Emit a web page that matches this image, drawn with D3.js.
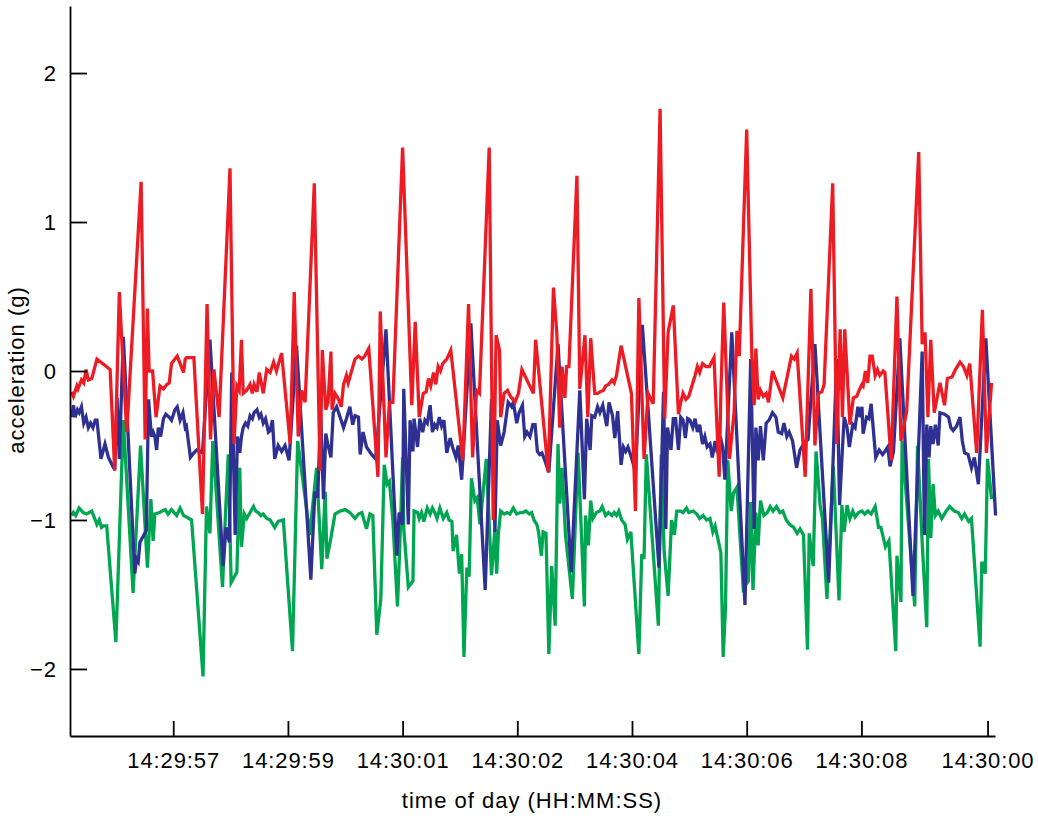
<!DOCTYPE html>
<meta charset="utf-8">
<script src="https://d3js.org/d3.v7.min.js"></script>
<style>
  body { margin: 0; background: #fff; }
  text { font-family: "Liberation Sans", Arial, Helvetica, sans-serif; }
</style>
<svg id="chart" width="1038" height="818"></svg>
<script>

  // elapsed time (s) and acceleration (g) for each axis of the sensor
  var red = [[0.03,-0.14],[0.06,-0.17],[0.12,-0.10],[0.14,-0.12],[0.20,-0.06],[0.24,-0.08],[0.28,0.01],[0.32,-0.06],[0.38,-0.05],[0.47,0.08],[0.70,0.01],[0.78,-0.67],[0.86,0.53],[0.90,0.23],[0.99,-0.41],[1.24,1.27],[1.31,-0.46],[1.35,0.42],[1.38,0.0],[1.44,0.0],[1.50,-0.31],[1.57,-0.10],[1.63,-0.12],[1.69,-0.09],[1.73,-0.08],[1.77,0.05],[1.83,0.08],[1.87,0.10],[1.92,0.05],[1.98,-0.01],[2.01,0.08],[2.03,0.09],[2.16,0.09],[2.31,-0.96],[2.39,0.45],[2.45,-0.46],[2.51,0.01],[2.60,-0.31],[2.79,1.36],[2.86,-0.49],[2.91,-0.10],[2.95,-0.13],[2.99,0.21],[3.02,-0.15],[3.08,-0.13],[3.14,-0.09],[3.18,-0.15],[3.21,-0.09],[3.26,-0.14],[3.30,-0.01],[3.37,-0.15],[3.43,0.01],[3.49,-0.01],[3.55,0.06],[3.60,0.0],[3.69,0.12],[3.84,-0.49],[3.91,0.53],[3.98,-0.44],[4.04,-0.13],[4.10,-0.21],[4.26,1.26],[4.36,-0.67],[4.40,0.14],[4.46,-0.26],[4.50,-0.21],[4.55,0.13],[4.57,-0.26],[4.62,-0.15],[4.67,-0.18],[4.73,-0.24],[4.77,-0.09],[4.82,-0.03],[4.85,-0.08],[4.91,0.0],[4.97,0.08],[5.03,0.10],[5.09,0.08],[5.14,0.10],[5.21,0.15],[5.37,-0.71],[5.41,0.40],[5.51,-0.58],[5.57,-0.21],[5.63,-0.21],[5.80,1.50],[5.96,-0.23],[6.02,0.33],[6.09,-0.31],[6.16,-0.15],[6.21,-0.14],[6.25,-0.05],[6.29,-0.10],[6.34,-0.01],[6.38,-0.09],[6.42,0.03],[6.46,0.0],[6.50,0.05],[6.57,0.08],[6.64,0.14],[6.85,-0.60],[6.95,0.45],[7.02,-0.58],[7.09,-0.13],[7.14,-0.15],[7.31,1.50],[7.38,-1.0],[7.43,0.24],[7.49,0.14],[7.51,-0.31],[7.57,-0.15],[7.63,-0.13],[7.68,-0.17],[7.76,-0.21],[7.82,-0.15],[7.88,0.01],[7.93,-0.03],[8.08,-0.15],[8.12,0.21],[8.34,-0.68],[8.43,0.56],[8.49,0.25],[8.54,-0.38],[8.58,0.03],[8.63,-0.18],[8.66,0.03],[8.70,0.03],[8.84,1.31],[8.89,-0.12],[8.98,0.24],[9.03,-0.31],[9.08,0.22],[9.15,-0.15],[9.20,-0.15],[9.24,-0.14],[9.30,-0.13],[9.34,-0.10],[9.39,-0.09],[9.45,-0.06],[9.49,-0.08],[9.53,-0.03],[9.61,0.17],[9.79,-0.15],[9.86,-0.94],[9.92,0.49],[10.01,-0.59],[10.08,-0.15],[10.17,-0.22],[10.29,1.76],[10.37,-0.32],[10.43,0.26],[10.52,0.44],[10.61,-0.29],[10.65,-0.21],[10.69,-0.15],[10.74,-0.19],[10.79,-0.17],[10.86,-0.08],[10.90,-0.03],[10.94,0.03],[10.98,-0.01],[11.03,0.05],[11.09,0.03],[11.15,0.03],[11.23,0.09],[11.32,-0.71],[11.35,-0.14],[11.40,0.46],[11.50,-0.59],[11.58,-0.28],[11.63,0.27],[11.67,0.10],[11.80,1.62],[11.89,0.10],[11.93,-0.23],[11.96,0.15],[12.00,-0.19],[12.04,-0.13],[12.09,-0.17],[12.14,-0.15],[12.18,-0.21],[12.25,0.0],[12.43,-0.18],[12.58,0.10],[12.63,0.08],[12.68,0.12],[12.82,-0.71],[12.92,0.55],[12.99,-0.50],[13.05,-0.15],[13.11,-0.14],[13.15,-0.09],[13.30,1.26],[13.37,-0.49],[13.43,0.28],[13.47,-0.31],[13.51,0.28],[13.60,-0.36],[13.66,-0.18],[13.72,-0.17],[13.76,-0.13],[13.81,-0.09],[13.83,-0.10],[13.87,0.0],[13.91,-0.08],[13.95,0.10],[13.99,0.10],[14.04,-0.03],[14.08,0.01],[14.12,-0.03],[14.18,0.0],[14.21,-0.01],[14.32,-0.60],[14.42,0.50],[14.49,-0.47],[14.59,-0.27],[14.80,1.47],[14.86,0.18],[14.91,0.26],[14.96,-0.31],[15.01,0.21],[15.07,-0.28],[15.17,-0.08],[15.25,-0.23],[15.30,-0.05],[15.38,-0.04],[15.44,0.01],[15.52,0.06],[15.58,0.03],[15.64,-0.03],[15.69,0.05],[15.81,-0.55],[15.91,0.41],[15.98,-0.55],[16.07,-0.08]];

  var blue = [[0.03,-0.31],[0.06,-0.23],[0.09,-0.31],[0.13,-0.26],[0.16,-0.28],[0.20,-0.24],[0.24,-0.35],[0.28,-0.31],[0.32,-0.38],[0.36,-0.35],[0.40,-0.38],[0.44,-0.33],[0.47,-0.33],[0.54,-0.59],[0.61,-0.49],[0.67,-0.58],[0.76,-0.65],[0.78,-0.65],[0.82,-0.18],[0.86,-0.59],[0.93,0.23],[1.13,-1.36],[1.16,-1.26],[1.19,-1.28],[1.22,-1.15],[1.33,-1.07],[1.37,-0.19],[1.42,-0.44],[1.45,-0.41],[1.48,-0.44],[1.51,-0.53],[1.54,-0.38],[1.58,-0.44],[1.63,-0.32],[1.67,-0.29],[1.73,-0.31],[1.77,-0.33],[1.83,-0.26],[1.87,-0.24],[1.92,-0.33],[1.97,-0.28],[2.01,-0.38],[2.03,-0.37],[2.10,-0.58],[2.16,-0.55],[2.21,-0.53],[2.27,-0.54],[2.31,-0.55],[2.44,0.21],[2.67,-1.31],[2.72,-1.05],[2.78,-1.15],[2.82,-0.01],[2.88,-1.10],[2.92,-0.44],[2.96,-0.55],[2.99,-0.44],[3.02,-0.38],[3.06,-0.35],[3.10,-0.37],[3.14,-0.30],[3.18,-0.32],[3.21,-0.28],[3.26,-0.26],[3.30,-0.31],[3.33,-0.29],[3.37,-0.35],[3.41,-0.32],[3.46,-0.41],[3.49,-0.40],[3.53,-0.33],[3.57,-0.59],[3.63,-0.50],[3.69,-0.54],[3.75,-0.50],[3.82,-0.60],[3.95,0.17],[4.20,-1.40],[4.27,-0.81],[4.32,-0.85],[4.37,-0.27],[4.42,-0.86],[4.46,-0.42],[4.50,-0.50],[4.55,-0.58],[4.59,-0.28],[4.65,-0.24],[4.71,-0.31],[4.77,-0.38],[4.82,-0.32],[4.88,-0.24],[4.93,-0.36],[4.97,-0.30],[5.03,-0.31],[5.06,-0.56],[5.11,-0.41],[5.17,-0.51],[5.26,-0.56],[5.33,-0.59],[5.51,0.28],[5.70,-1.24],[5.74,-0.95],[5.80,-1.03],[5.82,-0.12],[5.90,-1.03],[5.93,-0.33],[5.98,-0.54],[6.00,-0.32],[6.06,-0.51],[6.10,-0.32],[6.15,-0.41],[6.19,-0.33],[6.23,-0.35],[6.28,-0.23],[6.32,-0.41],[6.36,-0.36],[6.40,-0.38],[6.44,-0.31],[6.48,-0.37],[6.52,-0.33],[6.57,-0.55],[6.63,-0.45],[6.67,-0.51],[6.73,-0.58],[6.77,-0.50],[6.83,-0.73],[6.99,0.32],[7.24,-1.47],[7.35,-0.19],[7.41,-1.08],[7.45,-0.33],[7.51,-0.50],[7.57,-0.41],[7.64,-0.21],[7.70,-0.24],[7.73,-0.21],[7.79,-0.35],[7.83,-0.28],[7.89,-0.23],[7.93,-0.44],[7.97,-0.41],[8.02,-0.44],[8.07,-0.36],[8.11,-0.36],[8.15,-0.54],[8.19,-0.56],[8.23,-0.55],[8.28,-0.60],[8.35,-0.68],[8.51,0.18],[8.74,-1.35],[8.89,-0.13],[8.97,-0.86],[9.01,-0.32],[9.07,-0.53],[9.10,-0.30],[9.15,-0.31],[9.20,-0.24],[9.24,-0.28],[9.29,-0.23],[9.36,-0.37],[9.40,-0.21],[9.46,-0.30],[9.50,-0.45],[9.55,-0.27],[9.61,-0.63],[9.65,-0.51],[9.69,-0.54],[9.73,-0.51],[9.79,-0.58],[9.86,-0.68],[9.98,0.31],[10.27,-1.32],[10.35,-0.14],[10.39,-1.06],[10.42,-0.38],[10.48,-0.53],[10.52,-0.32],[10.56,-0.32],[10.61,-0.53],[10.65,-0.31],[10.69,-0.33],[10.73,-0.45],[10.77,-0.32],[10.81,-0.33],[10.86,-0.38],[10.90,-0.32],[10.94,-0.41],[10.98,-0.36],[11.03,-0.49],[11.07,-0.44],[11.11,-0.51],[11.16,-0.49],[11.20,-0.58],[11.25,-0.47],[11.29,-0.55],[11.34,-0.44],[11.38,-0.51],[11.42,-0.73],[11.54,0.26],[11.77,-1.57],[11.87,0.08],[11.93,-1.06],[11.96,-0.38],[12.00,-0.60],[12.04,-0.37],[12.09,-0.60],[12.14,-0.35],[12.19,-0.33],[12.25,-0.28],[12.31,-0.31],[12.35,-0.41],[12.41,-0.42],[12.45,-0.35],[12.50,-0.44],[12.54,-0.41],[12.60,-0.47],[12.67,-0.65],[12.73,-0.53],[12.78,-0.50],[12.83,-0.47],[12.87,-0.46],[12.99,0.18],[13.23,-1.42],[13.37,0.08],[13.42,-0.90],[13.46,-0.59],[13.50,-0.31],[13.55,-0.38],[13.59,-0.51],[13.65,-0.36],[13.69,-0.38],[13.74,-0.24],[13.78,-0.31],[13.81,-0.24],[13.83,-0.42],[13.89,-0.31],[13.93,-0.32],[13.97,-0.22],[14.05,-0.58],[14.11,-0.53],[14.17,-0.56],[14.21,-0.54],[14.26,-0.51],[14.30,-0.64],[14.36,-0.54],[14.47,0.22],[14.70,-1.51],[14.86,0.13],[14.90,-1.10],[14.94,-0.36],[14.98,-0.58],[15.01,-0.37],[15.05,-0.49],[15.09,-0.36],[15.14,-0.50],[15.17,-0.28],[15.25,-0.29],[15.32,-0.31],[15.36,-0.38],[15.40,-0.40],[15.46,-0.37],[15.52,-0.31],[15.56,-0.47],[15.60,-0.55],[15.66,-0.56],[15.72,-0.65],[15.77,-0.58],[15.84,-0.76],[15.97,0.22],[16.14,-0.97]];

  var green = [[0.03,-0.97],[0.06,-0.95],[0.10,-0.97],[0.16,-0.92],[0.23,-0.95],[0.29,-0.96],[0.38,-0.94],[0.47,-1.03],[0.51,-1.00],[0.55,-1.05],[0.58,-1.04],[0.64,-1.04],[0.80,-1.82],[0.93,-0.33],[1.10,-1.49],[1.23,-0.50],[1.35,-1.32],[1.41,-0.86],[1.45,-1.14],[1.48,-0.96],[1.56,-0.95],[1.61,-0.94],[1.66,-0.93],[1.71,-0.96],[1.77,-0.93],[1.86,-0.97],[1.92,-0.92],[1.98,-0.97],[2.03,-0.98],[2.12,-1.00],[2.32,-2.05],[2.38,-0.91],[2.44,-1.09],[2.49,-0.47],[2.66,-1.45],[2.71,-0.97],[2.76,-0.56],[2.81,-1.42],[2.91,-1.35],[2.96,-0.65],[2.99,-1.18],[3.04,-0.96],[3.08,-0.99],[3.14,-0.95],[3.20,-0.91],[3.24,-0.94],[3.28,-0.95],[3.33,-0.97],[3.37,-0.96],[3.43,-0.99],[3.49,-1.00],[3.57,-1.05],[3.63,-1.01],[3.72,-1.00],[3.88,-1.88],[3.97,-0.47],[4.10,-0.85],[4.18,-1.10],[4.30,-0.65],[4.39,-1.33],[4.45,-0.81],[4.48,-1.26],[4.55,-1.12],[4.62,-0.96],[4.71,-0.94],[4.80,-0.93],[4.88,-0.95],[4.97,-0.99],[5.03,-0.96],[5.09,-0.95],[5.17,-1.06],[5.23,-0.96],[5.28,-0.97],[5.35,-1.77],[5.42,-1.53],[5.48,-0.63],[5.53,-0.76],[5.57,-0.74],[5.63,-1.00],[5.71,-1.58],[5.75,-1.19],[5.80,-0.58],[5.82,-1.06],[5.90,-1.45],[5.98,-1.41],[6.00,-0.94],[6.06,-0.95],[6.09,-0.99],[6.13,-0.95],[6.17,-1.01],[6.23,-0.92],[6.28,-0.96],[6.32,-0.92],[6.36,-0.95],[6.40,-0.99],[6.45,-0.92],[6.51,-0.99],[6.57,-0.95],[6.61,-1.00],[6.66,-1.01],[6.68,-1.21],[6.74,-1.10],[6.79,-1.36],[6.83,-1.23],[6.87,-1.92],[6.92,-1.32],[6.96,-1.38],[7.00,-0.72],[7.06,-0.87],[7.10,-0.85],[7.15,-1.03],[7.26,-0.59],[7.35,-1.37],[7.41,-1.06],[7.44,-1.36],[7.47,-1.09],[7.51,-0.94],[7.57,-0.96],[7.62,-0.95],[7.67,-0.96],[7.73,-0.92],[7.79,-0.96],[7.85,-0.95],[7.90,-0.95],[7.95,-0.94],[8.01,-0.96],[8.05,-0.95],[8.09,-1.00],[8.14,-1.03],[8.17,-1.08],[8.22,-1.24],[8.25,-1.08],[8.30,-1.09],[8.35,-1.90],[8.40,-1.31],[8.46,-1.71],[8.51,-0.49],[8.54,-0.89],[8.58,-0.65],[8.64,-1.10],[8.76,-1.53],[8.86,-0.55],[8.97,-1.58],[8.99,-0.97],[9.04,-1.17],[9.08,-0.87],[9.12,-0.99],[9.18,-0.95],[9.24,-0.94],[9.28,-0.91],[9.34,-0.97],[9.39,-0.95],[9.45,-0.97],[9.49,-0.95],[9.53,-0.97],[9.57,-0.94],[9.62,-1.00],[9.68,-1.03],[9.72,-1.13],[9.78,-1.08],[9.92,-1.90],[9.97,-1.23],[10.01,-1.26],[10.05,-0.56],[10.26,-1.71],[10.31,-0.56],[10.36,-1.21],[10.43,-1.51],[10.49,-1.00],[10.54,-1.10],[10.58,-0.94],[10.64,-0.94],[10.69,-0.95],[10.75,-0.92],[10.79,-0.95],[10.87,-0.94],[10.93,-0.96],[10.98,-0.99],[11.04,-0.97],[11.10,-1.00],[11.16,-0.99],[11.21,-1.08],[11.25,-1.04],[11.35,-1.22],[11.39,-1.92],[11.43,-1.59],[11.47,-0.60],[11.53,-0.94],[11.57,-0.82],[11.63,-0.78],[11.74,-1.46],[11.83,-1.41],[11.87,-0.88],[11.91,-1.47],[11.96,-0.95],[12.00,-1.17],[12.04,-0.87],[12.10,-0.97],[12.16,-0.95],[12.21,-0.91],[12.26,-0.94],[12.32,-0.91],[12.38,-0.95],[12.43,-0.94],[12.49,-1.00],[12.55,-1.03],[12.62,-1.05],[12.68,-1.09],[12.73,-1.06],[12.79,-1.10],[12.86,-1.87],[12.89,-1.09],[12.96,-1.31],[13.01,-0.54],[13.08,-0.90],[13.12,-0.99],[13.20,-1.53],[13.31,-0.64],[13.37,-1.17],[13.41,-1.54],[13.46,-0.90],[13.50,-1.08],[13.55,-0.90],[13.60,-0.99],[13.65,-0.94],[13.69,-0.98],[13.75,-0.95],[13.81,-0.94],[13.86,-0.96],[13.91,-0.94],[13.97,-0.96],[14.04,-0.91],[14.10,-1.05],[14.14,-1.05],[14.22,-1.18],[14.28,-1.14],[14.40,-1.88],[14.42,-1.24],[14.49,-1.55],[14.51,-0.47],[14.73,-1.58],[14.78,-0.50],[14.86,-1.15],[14.94,-1.72],[14.97,-0.59],[15.01,-1.12],[15.05,-0.76],[15.09,-0.97],[15.14,-0.94],[15.20,-0.99],[15.28,-0.94],[15.34,-0.91],[15.42,-0.94],[15.49,-0.95],[15.55,-0.99],[15.60,-0.96],[15.67,-1.01],[15.72,-0.99],[15.87,-1.85],[15.90,-1.28],[15.96,-1.36],[16.00,-0.59],[16.07,-0.86]];

  // tick positions (s) and the labels printed under them
  var xTickValues = [1.8, 3.8, 5.8, 7.8, 9.8, 11.8, 13.8, 16.0];
  var xTickLabels = ["14:29:57", "14:29:59", "14:30:01", "14:30:02", "14:30:04", "14:30:06", "14:30:08", "14:30:00"];
  var yTickValues = [-2, -1, 0, 1, 2];

  var svg = d3.select("#chart");

  var x = d3.scaleLinear().domain([0, 16.13]).range([70, 995]);
  var y = d3.scaleLinear().domain([-2.45, 2.45]).range([736, 6]);

  var line = d3.line()
    .x(function (d) { return x(d[0]); })
    .y(function (d) { return y(d[1]); });

  var series = [
    { data: green, color: "#00a651" },
    { data: blue, color: "#2e3192" },
    { data: red, color: "#ed1c24" }
  ];

  svg.append("g")
    .selectAll("path")
    .data(series)
    .enter()
    .append("path")
    .attr("d", function (d) { return line(d.data); })
    .attr("fill", "none")
    .attr("stroke", function (d) { return d.color; })
    .attr("stroke-width", 3.3);

  // axes, ticks pointing inward
  var xAxis = d3.axisBottom(x)
    .tickValues(xTickValues)
    .tickFormat(function (d, i) { return xTickLabels[i]; })
    .tickSizeInner(-15)
    .tickSizeOuter(0)
    .tickPadding(16);

  var yAxis = d3.axisLeft(y)
    .tickValues(yTickValues)
    .tickFormat(d3.format("d"))
    .tickSizeInner(-17)
    .tickSizeOuter(0)
    .tickPadding(13);

  svg.append("g")
    .attr("transform", "translate(0,736)")
    .call(xAxis);

  svg.append("g")
    .attr("transform", "translate(70,0)")
    .call(yAxis);

  svg.selectAll(".domain, .tick line")
    .attr("stroke", "#000")
    .attr("stroke-width", 1.8);

  svg.selectAll(".tick text")
    .attr("fill", "#000")
    .style("font-size", "22px")
    .style("letter-spacing", "0.9px")
    .style("font-family", "'Liberation Sans', Arial, sans-serif");

  svg.append("text")
    .attr("x", 532)
    .attr("y", 808)
    .attr("text-anchor", "middle")
    .style("font-size", "22px")
    .style("letter-spacing", "1px")
    .text("time of day (HH:MM:SS)");

  svg.append("text")
    .attr("transform", "translate(24,370) rotate(-90)")
    .attr("text-anchor", "middle")
    .style("font-size", "22px")
    .style("letter-spacing", "1px")
    .text("acceleration (g)");

</script>
